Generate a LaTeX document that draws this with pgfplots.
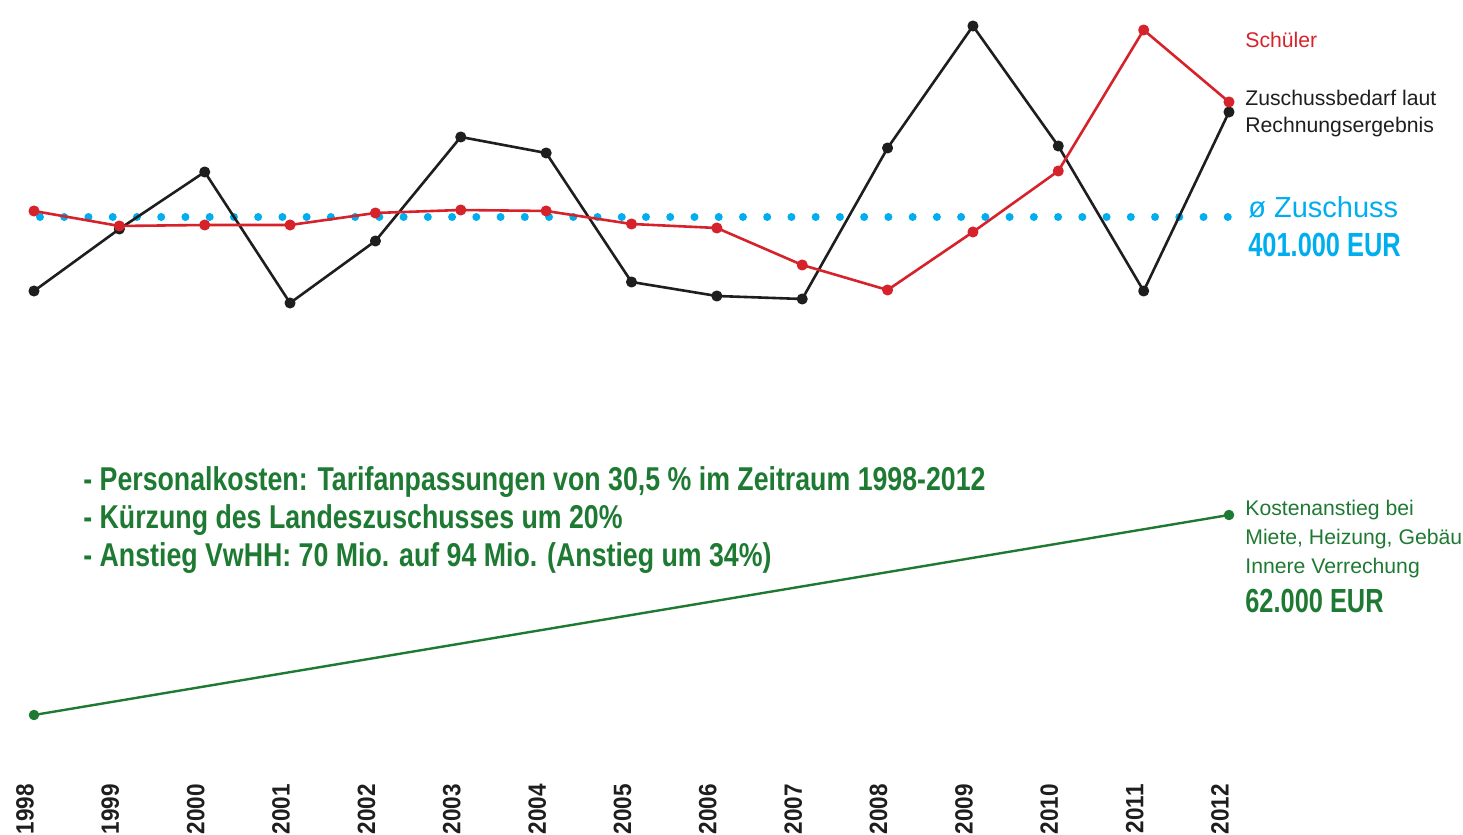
\documentclass[border=0pt]{standalone}
\usepackage{fontspec}
\setmainfont{Liberation Sans}
\newfontfamily\cond{Liberation Sans}[FakeStretch=0.76]
\newfontfamily\condb{Liberation Sans}[FakeStretch=0.81]
\newfontfamily\condy{Liberation Sans}[FakeStretch=0.9]
\usepackage{pgfplots}
\pgfplotsset{compat=1.18}
\definecolor{cred}{RGB}{214,35,43}
\definecolor{cblack}{RGB}{30,30,30}
\definecolor{cblue}{RGB}{0,174,239}
\definecolor{cgreen}{RGB}{30,122,50}
\begin{document}
\begin{tikzpicture}
\begin{axis}[
  scale only axis,
  width=731.5bp, height=392bp,
  xmin=1997.6017, xmax=2014.7414,
  ymin=51, ymax=835,
  clip=false,
  axis line style={draw=none},
  tick style={draw=none},
  ytick=\empty,
  xtick={1998,1999,2000,2001,2002,2003,2004,2005,2006,2007,2008,2009,2010,2011,2012},
  xticklabels={1998,1999,2000,2001,2002,2003,2004,2005,2006,2007,2008,2009,2010,2011,2012},
  xticklabel style={xshift=-4.5bp, rotate=90, anchor=east, inner sep=0pt, text=cblack,
    font=\condy\bfseries\fontsize{12.5bp}{13bp}\selectfont},
  every axis plot/.append style={line join=round},
]
% Kostenanstieg (green)
\addplot[cgreen, line width=1.2bp, mark=*, mark size=2bp] coordinates {(1998,120) (2012,320)};
% average (blue dotted)
\addplot[cblue, line width=4bp, line cap=round, dash pattern=on 0bp off 12.12bp] coordinates {(1998.0703,618) (2011.9883,618)};
% Zuschussbedarf laut Rechnungsergebnis (black)
\addplot[cblack, line width=1.3bp, mark=*, mark size=2.1bp] coordinates {
(1998,544) (1999,606) (2000,663) (2001,532) (2002,594) (2003,698) (2004,682) (2005,553)
(2006,539) (2007,536) (2008,687) (2009,809) (2010,689) (2011,544) (2012,723)};
% Schueler (red)
\addplot[cred, line width=1.3bp, mark=*, mark size=2.1bp] coordinates {
(1998,624) (1999,609) (2000,610) (2001,610) (2002,622) (2003,625) (2004,624) (2005,611)
(2006,607) (2007,570) (2008,545) (2009,603) (2010,664) (2011,805) (2012,733)};
% labels
\node[anchor=base west, inner sep=0pt, text=cred, font=\fontsize{10.6bp}{13bp}\selectfont] at (axis cs:2012.187,787) {Schüler};
\node[anchor=base west, inner sep=0pt, text=cblack, font=\fontsize{10.6bp}{13bp}\selectfont] at (axis cs:2012.187,729) {Zuschussbedarf laut};
\node[anchor=base west, inner sep=0pt, text=cblack, font=\fontsize{10.6bp}{13bp}\selectfont] at (axis cs:2012.187,702) {Rechnungsergebnis};
\node[anchor=base west, inner sep=0pt, text=cblue, font=\fontsize{14.5bp}{16bp}\selectfont] at (axis cs:2012.222,617) {ø Zuschuss};
\node[anchor=base west, inner sep=0pt, text=cblue, font=\cond\bfseries\fontsize{16.7bp}{18bp}\selectfont] at (axis cs:2012.222,578) {401.000 EUR};
\node[anchor=base west, inner sep=0pt, text=cgreen, font=\fontsize{10.6bp}{13bp}\selectfont] at (axis cs:2012.187,319) {Kostenanstieg bei};
\node[anchor=base west, inner sep=0pt, text=cgreen, font=\fontsize{10.6bp}{13bp}\selectfont] at (axis cs:2012.187,290) {Miete, Heizung, Gebäu};
\node[anchor=base west, inner sep=0pt, text=cgreen, font=\fontsize{10.6bp}{13bp}\selectfont] at (axis cs:2012.187,261) {Innere Verrechung};
\node[anchor=base west, inner sep=0pt, text=cgreen, font=\cond\bfseries\fontsize{16.7bp}{18bp}\selectfont] at (axis cs:2012.187,222) {62.000 EUR};
\node[anchor=base west, inner sep=0pt, text=cgreen, font=\condb\bfseries\fontsize{16.5bp}{18bp}\selectfont] at (axis cs:1998.574,344) {- Personalkosten: Tarifanpassungen von 30,5 \% im Zeitraum 1998-2012};
\node[anchor=base west, inner sep=0pt, text=cgreen, font=\condb\bfseries\fontsize{16.5bp}{18bp}\selectfont] at (axis cs:1998.574,306) {- Kürzung des Landeszuschusses um 20\%};
\node[anchor=base west, inner sep=0pt, text=cgreen, font=\condb\bfseries\fontsize{16.5bp}{18bp}\selectfont] at (axis cs:1998.574,268) {- Anstieg VwHH: 70 Mio. auf 94 Mio. (Anstieg um 34\%)};
\path (axis cs:1997.6017,0) rectangle (axis cs:2014.7414,835);
\end{axis}
\end{tikzpicture}
\end{document}
